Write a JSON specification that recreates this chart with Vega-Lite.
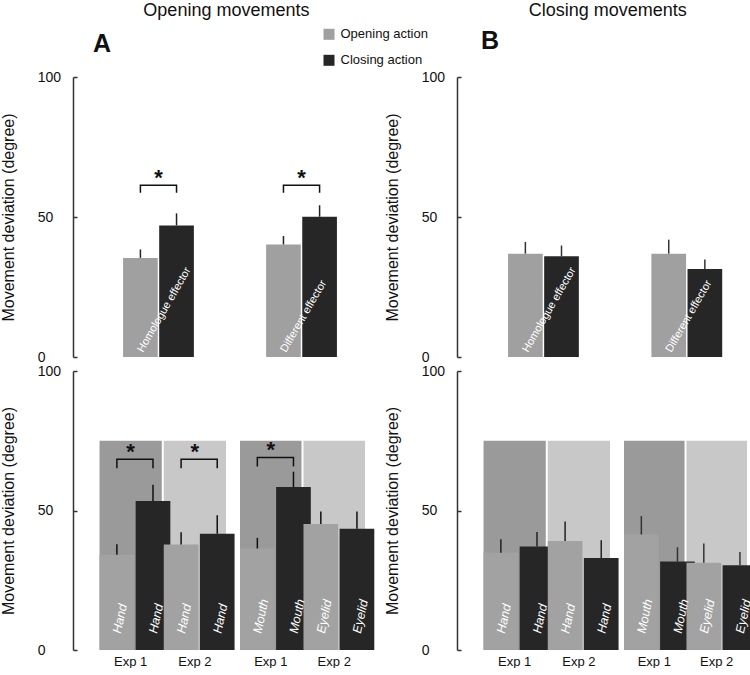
{
  "$schema": "https://vega.github.io/schema/vega-lite/v6.json",
  "padding": {"left": 0, "top": 2, "right": 0, "bottom": 0},
  "config": {
    "font": "Liberation Sans",
    "view": {"stroke": null},
    "axis": {"grid": false, "domainColor": "#333333", "tickColor": "#333333", "labelColor": "#111111", "titleColor": "#111111", "labelFont": "Liberation Sans", "titleFont": "Liberation Sans"},
    "axisY": {"tickSize": -4, "labelAlign": "left", "labelPadding": 39.7, "labelFontSize": 14, "labelFlush": false, "titleFontSize": 16, "titleFontWeight": "normal", "titlePadding": 21, "domainWidth": 1.5, "tickWidth": 1.5},
    "axisX": {"domain": false, "ticks": false, "labelFontSize": 13, "labelPadding": 5, "labelAngle": 0},
    "title": {"font": "Liberation Sans", "color": "#111111"}
  },
  "datasets": {
    "bars": [
      {"panel": "TL", "group": "Homologue effector", "action": "Opening action", "mean": 35.4, "upper": 38.4},
      {"panel": "TL", "group": "Homologue effector", "action": "Closing action", "mean": 47.0, "upper": 51.3},
      {"panel": "TL", "group": "Different effector", "action": "Opening action", "mean": 40.2, "upper": 43.2},
      {"panel": "TL", "group": "Different effector", "action": "Closing action", "mean": 50.1, "upper": 54.2},
      {"panel": "TR", "group": "Homologue effector", "action": "Opening action", "mean": 36.9, "upper": 41.1},
      {"panel": "TR", "group": "Homologue effector", "action": "Closing action", "mean": 36.0, "upper": 39.8},
      {"panel": "TR", "group": "Different effector", "action": "Opening action", "mean": 36.9, "upper": 41.9},
      {"panel": "TR", "group": "Different effector", "action": "Closing action", "mean": 31.4, "upper": 34.8},
      {"panel": "BL1", "group": "Exp 1", "effector": "Hand", "action": "Opening action", "mean": 34.1, "upper": 37.9},
      {"panel": "BL1", "group": "Exp 1", "effector": "Hand", "action": "Closing action", "mean": 53.4, "upper": 59.2},
      {"panel": "BL1", "group": "Exp 2", "effector": "Hand", "action": "Opening action", "mean": 37.8, "upper": 42.2},
      {"panel": "BL1", "group": "Exp 2", "effector": "Hand", "action": "Closing action", "mean": 41.7, "upper": 48.3},
      {"panel": "BL2", "group": "Exp 1", "effector": "Mouth", "action": "Opening action", "mean": 36.4, "upper": 40.2},
      {"panel": "BL2", "group": "Exp 1", "effector": "Mouth", "action": "Closing action", "mean": 58.4, "upper": 63.9},
      {"panel": "BL2", "group": "Exp 2", "effector": "Eyelid", "action": "Opening action", "mean": 45.2, "upper": 49.6},
      {"panel": "BL2", "group": "Exp 2", "effector": "Eyelid", "action": "Closing action", "mean": 43.5, "upper": 49.6},
      {"panel": "BR1", "group": "Exp 1", "effector": "Hand", "action": "Opening action", "mean": 34.9, "upper": 39.7},
      {"panel": "BR1", "group": "Exp 1", "effector": "Hand", "action": "Closing action", "mean": 37.1, "upper": 42.3},
      {"panel": "BR1", "group": "Exp 2", "effector": "Hand", "action": "Opening action", "mean": 39.1, "upper": 46.1},
      {"panel": "BR1", "group": "Exp 2", "effector": "Hand", "action": "Closing action", "mean": 33.0, "upper": 39.3},
      {"panel": "BR2", "group": "Exp 1", "effector": "Mouth", "action": "Opening action", "mean": 41.4, "upper": 48.0},
      {"panel": "BR2", "group": "Exp 1", "effector": "Mouth", "action": "Closing action", "mean": 31.7, "upper": 36.8},
      {"panel": "BR2", "group": "Exp 2", "effector": "Eyelid", "action": "Opening action", "mean": 31.3, "upper": 38.2},
      {"panel": "BR2", "group": "Exp 2", "effector": "Eyelid", "action": "Closing action", "mean": 30.4, "upper": 35.1}
    ],
    "backgrounds": [
      {"panel": "BL1", "group": "Exp 1", "top": 75}, {"panel": "BL1", "group": "Exp 2", "top": 75},
      {"panel": "BL2", "group": "Exp 1", "top": 75}, {"panel": "BL2", "group": "Exp 2", "top": 75},
      {"panel": "BR1", "group": "Exp 1", "top": 75}, {"panel": "BR1", "group": "Exp 2", "top": 75},
      {"panel": "BR2", "group": "Exp 1", "top": 75}, {"panel": "BR2", "group": "Exp 2", "top": 75}
    ],
    "brackets": [
      {"panel": "TL", "group": "Homologue effector", "action": "Opening action", "seq": 1, "y": 58.7},
      {"panel": "TL", "group": "Homologue effector", "action": "Opening action", "seq": 2, "y": 61.3},
      {"panel": "TL", "group": "Homologue effector", "action": "Closing action", "seq": 3, "y": 61.3},
      {"panel": "TL", "group": "Homologue effector", "action": "Closing action", "seq": 4, "y": 58.7},
      {"panel": "TL", "group": "Different effector", "action": "Opening action", "seq": 1, "y": 58.7},
      {"panel": "TL", "group": "Different effector", "action": "Opening action", "seq": 2, "y": 61.3},
      {"panel": "TL", "group": "Different effector", "action": "Closing action", "seq": 3, "y": 61.3},
      {"panel": "TL", "group": "Different effector", "action": "Closing action", "seq": 4, "y": 58.7},
      {"panel": "BL1", "group": "Exp 1", "action": "Opening action", "seq": 1, "y": 65.1},
      {"panel": "BL1", "group": "Exp 1", "action": "Opening action", "seq": 2, "y": 68.4},
      {"panel": "BL1", "group": "Exp 1", "action": "Closing action", "seq": 3, "y": 68.4},
      {"panel": "BL1", "group": "Exp 1", "action": "Closing action", "seq": 4, "y": 65.1},
      {"panel": "BL1", "group": "Exp 2", "action": "Opening action", "seq": 1, "y": 65.1},
      {"panel": "BL1", "group": "Exp 2", "action": "Opening action", "seq": 2, "y": 68.4},
      {"panel": "BL1", "group": "Exp 2", "action": "Closing action", "seq": 3, "y": 68.4},
      {"panel": "BL1", "group": "Exp 2", "action": "Closing action", "seq": 4, "y": 65.1},
      {"panel": "BL2", "group": "Exp 1", "action": "Opening action", "seq": 1, "y": 65.8},
      {"panel": "BL2", "group": "Exp 1", "action": "Opening action", "seq": 2, "y": 69.0},
      {"panel": "BL2", "group": "Exp 1", "action": "Closing action", "seq": 3, "y": 69.0},
      {"panel": "BL2", "group": "Exp 1", "action": "Closing action", "seq": 4, "y": 65.8}
    ],
    "stars": [
      {"panel": "TL", "group": "Homologue effector", "y": 61.3},
      {"panel": "TL", "group": "Different effector", "y": 61.3},
      {"panel": "BL1", "group": "Exp 1", "y": 68.4},
      {"panel": "BL1", "group": "Exp 2", "y": 68.4},
      {"panel": "BL2", "group": "Exp 1", "y": 69.0}
    ]
  },
  "spacing": -45,
  "resolve": {"scale": {"color": "independent"}, "legend": {"color": "independent"}},
  "hconcat": [
    {
      "title": {"text": "Opening movements", "fontSize": 18, "fontWeight": "normal", "anchor": "middle", "offset": 7.5, "dx": 12},
      "spacing": 0,
      "resolve": {"scale": {"color": "independent"}, "legend": {"color": "independent"}},
      "vconcat": [
        {
          "width": 314, "height": 280,
          "title": {"text": "A", "fontSize": 25, "fontWeight": "bold", "anchor": "start", "frame": "group", "dx": 20, "offset": -29},
          "layer": [
            {
              "data": {"name": "bars"},
              "transform": [{"filter": "datum.panel === 'TL'"}],
              "mark": {"type": "bar"},
              "encoding": {
                "x": {"field": "group", "type": "nominal", "title": null, "scale": {"domain": ["Homologue effector", "Different effector"], "paddingInner": 0.505, "paddingOuter": 0.35}, "axis": null},
                "xOffset": {"field": "action", "type": "nominal", "scale": {"domain": ["Opening action", "Closing action"], "paddingInner": 0.04, "paddingOuter": 0}},
                "y": {"field": "mean", "type": "quantitative", "title": "Movement deviation (degree)", "scale": {"domain": [0, 100], "nice": false}, "axis": {"values": [0, 50, 100]}},
                "color": {"field": "action", "type": "nominal", "scale": {"domain": ["Opening action", "Closing action"], "range": ["#a0a0a0", "#262626"]},
                  "legend": {"title": null, "orient": "none", "legendX": 249.5, "legendY": -49.2, "symbolType": "square", "symbolSize": 121, "symbolStrokeWidth": 0, "labelFontSize": 13, "labelColor": "#111111", "rowPadding": 12, "labelOffset": 5, "padding": 0}}
              }
            },
            {
              "data": {"name": "bars"},
              "transform": [{"filter": "datum.panel === 'TL'"}],
              "mark": {"type": "rule", "color": "#222222", "strokeWidth": 1.5},
              "encoding": {
                "x": {"field": "group", "type": "nominal", "title": null, "axis": null},
                "xOffset": {"field": "action", "type": "nominal"},
                "y": {"field": "mean", "type": "quantitative", "title": "Movement deviation (degree)"},
                "y2": {"field": "upper"}
              }
            },
            {
              "data": {"name": "bars"},
              "transform": [{"filter": "datum.panel === 'TL' && datum.action === 'Opening action'"}],
              "mark": {"type": "text", "angle": -60, "align": "left", "baseline": "middle", "color": "#ffffff", "fontSize": 11},
              "encoding": {
                "x": {"field": "group", "type": "nominal", "title": null, "axis": null},
                "xOffset": {"field": "action", "type": "nominal"},
                "y": {"datum": 2, "type": "quantitative"},
                "text": {"field": "group"}
              }
            },
            {
              "data": {"name": "brackets"},
              "transform": [{"filter": "datum.panel === 'TL'"}],
              "mark": {"type": "line", "color": "#111111", "strokeWidth": 1.5},
              "encoding": {
                "x": {"field": "group", "type": "nominal", "title": null, "axis": null},
                "xOffset": {"field": "action", "type": "nominal"},
                "y": {"field": "y", "type": "quantitative", "title": "Movement deviation (degree)"},
                "detail": {"field": "group"},
                "order": {"field": "seq"}
              }
            },
            {
              "data": {"name": "stars"},
              "transform": [{"filter": "datum.panel === 'TL'"}],
              "mark": {"type": "text", "text": "*", "fontSize": 22, "fontWeight": "bold", "baseline": "alphabetic", "color": "#111111"},
              "encoding": {
                "x": {"field": "group", "type": "nominal", "title": null, "axis": null},
                "y": {"field": "y", "type": "quantitative", "title": "Movement deviation (degree)"}
              }
            }
          ]
        },
        {
          "spacing": 5,
          "resolve": {"scale": {"color": "independent"}, "legend": {"color": "independent"}},
          "hconcat": [
            {
              "width": 153, "height": 279,
              "layer": [
                {
                  "data": {"name": "backgrounds"},
                  "transform": [{"filter": "datum.panel === 'BL1'"}],
                  "mark": {"type": "bar"},
                  "encoding": {
                    "x": {"field": "group", "type": "nominal", "title": null, "scale": {"domain": ["Exp 1", "Exp 2"], "paddingInner": 0.031, "paddingOuter": 0.2065, "align": 1}},
                    "y": {"field": "top", "type": "quantitative", "title": "Movement deviation (degree)", "scale": {"domain": [0, 100], "nice": false}, "axis": {"values": [0, 50, 100]}},
                    "fill": {"condition": {"test": "datum.group === 'Exp 1'", "value": "#9a9a9a"}, "value": "#c8c8c8"}
                  }
                },
                {
                  "data": {"name": "bars"},
                  "transform": [{"filter": "datum.panel === 'BL1'"}],
                  "mark": {"type": "bar"},
                  "encoding": {
                    "x": {"field": "group", "type": "nominal", "title": null},
                    "xOffset": {"field": "action", "type": "nominal", "scale": {"domain": ["Opening action", "Closing action"], "paddingInner": 0.1, "paddingOuter": 0.083}},
                    "y": {"field": "mean", "type": "quantitative", "title": "Movement deviation (degree)"},
                    "color": {"field": "action", "type": "nominal", "scale": {"domain": ["Opening action", "Closing action"], "range": ["#a2a2a2", "#262626"]}, "legend": null}
                  }
                },
                {
                  "data": {"name": "bars"},
                  "transform": [{"filter": "datum.panel === 'BL1'"}],
                  "mark": {"type": "rule", "color": "#111111", "strokeWidth": 1.5},
                  "encoding": {
                    "x": {"field": "group", "type": "nominal", "title": null},
                    "xOffset": {"field": "action", "type": "nominal"},
                    "y": {"field": "mean", "type": "quantitative", "title": "Movement deviation (degree)"},
                    "y2": {"field": "upper"}
                  }
                },
                {
                  "data": {"name": "bars"},
                  "transform": [{"filter": "datum.panel === 'BL1'"}],
                  "mark": {"type": "text", "angle": -78, "align": "left", "baseline": "middle", "color": "#ffffff", "fontSize": 12.5, "fontStyle": "italic"},
                  "encoding": {
                    "x": {"field": "group", "type": "nominal", "title": null},
                    "xOffset": {"field": "action", "type": "nominal"},
                    "y": {"datum": 6, "type": "quantitative"},
                    "text": {"field": "effector"}
                  }
                },
                {
                  "data": {"name": "brackets"},
                  "transform": [{"filter": "datum.panel === 'BL1'"}],
                  "mark": {"type": "line", "color": "#111111", "strokeWidth": 1.5},
                  "encoding": {
                    "x": {"field": "group", "type": "nominal", "title": null},
                    "xOffset": {"field": "action", "type": "nominal"},
                    "y": {"field": "y", "type": "quantitative", "title": "Movement deviation (degree)"},
                    "detail": {"field": "group"},
                    "order": {"field": "seq"}
                  }
                },
                {
                  "data": {"name": "stars"},
                  "transform": [{"filter": "datum.panel === 'BL1'"}],
                  "mark": {"type": "text", "text": "*", "fontSize": 22, "fontWeight": "bold", "baseline": "alphabetic", "color": "#111111"},
                  "encoding": {
                    "x": {"field": "group", "type": "nominal", "title": null},
                    "y": {"field": "y", "type": "quantitative", "title": "Movement deviation (degree)"}
                  }
                }
              ]
            },
            {
              "width": 125, "height": 279,
              "layer": [
                {
                  "data": {"name": "backgrounds"},
                  "transform": [{"filter": "datum.panel === 'BL2'"}],
                  "mark": {"type": "bar"},
                  "encoding": {
                    "x": {"field": "group", "type": "nominal", "title": null, "scale": {"domain": ["Exp 1", "Exp 2"], "paddingInner": 0.031, "paddingOuter": 0}},
                    "y": {"field": "top", "type": "quantitative", "scale": {"domain": [0, 100], "nice": false}, "axis": null},
                    "fill": {"condition": {"test": "datum.group === 'Exp 1'", "value": "#9a9a9a"}, "value": "#c8c8c8"}
                  }
                },
                {
                  "data": {"name": "bars"},
                  "transform": [{"filter": "datum.panel === 'BL2'"}],
                  "mark": {"type": "bar"},
                  "encoding": {
                    "x": {"field": "group", "type": "nominal", "title": null},
                    "xOffset": {"field": "action", "type": "nominal", "scale": {"domain": ["Opening action", "Closing action"], "paddingInner": 0.1, "paddingOuter": 0.083}},
                    "y": {"field": "mean", "type": "quantitative", "axis": null},
                    "color": {"field": "action", "type": "nominal", "scale": {"domain": ["Opening action", "Closing action"], "range": ["#a2a2a2", "#262626"]}, "legend": null}
                  }
                },
                {
                  "data": {"name": "bars"},
                  "transform": [{"filter": "datum.panel === 'BL2'"}],
                  "mark": {"type": "rule", "color": "#111111", "strokeWidth": 1.5},
                  "encoding": {
                    "x": {"field": "group", "type": "nominal", "title": null},
                    "xOffset": {"field": "action", "type": "nominal"},
                    "y": {"field": "mean", "type": "quantitative", "axis": null},
                    "y2": {"field": "upper"}
                  }
                },
                {
                  "data": {"name": "bars"},
                  "transform": [{"filter": "datum.panel === 'BL2'"}],
                  "mark": {"type": "text", "angle": -78, "align": "left", "baseline": "middle", "color": "#ffffff", "fontSize": 12.5, "fontStyle": "italic"},
                  "encoding": {
                    "x": {"field": "group", "type": "nominal", "title": null},
                    "xOffset": {"field": "action", "type": "nominal"},
                    "y": {"datum": 6, "type": "quantitative", "axis": null},
                    "text": {"field": "effector"}
                  }
                },
                {
                  "data": {"name": "brackets"},
                  "transform": [{"filter": "datum.panel === 'BL2'"}],
                  "mark": {"type": "line", "color": "#111111", "strokeWidth": 1.5},
                  "encoding": {
                    "x": {"field": "group", "type": "nominal", "title": null},
                    "xOffset": {"field": "action", "type": "nominal"},
                    "y": {"field": "y", "type": "quantitative", "axis": null},
                    "detail": {"field": "group"},
                    "order": {"field": "seq"}
                  }
                },
                {
                  "data": {"name": "stars"},
                  "transform": [{"filter": "datum.panel === 'BL2'"}],
                  "mark": {"type": "text", "text": "*", "fontSize": 22, "fontWeight": "bold", "baseline": "alphabetic", "color": "#111111"},
                  "encoding": {
                    "x": {"field": "group", "type": "nominal", "title": null},
                    "y": {"field": "y", "type": "quantitative", "axis": null}
                  }
                }
              ]
            }
          ]
        }
      ]
    },
    {
      "title": {"text": "Closing movements", "fontSize": 18, "fontWeight": "normal", "anchor": "middle", "offset": 9, "dx": 37},
      "spacing": 0,
      "resolve": {"scale": {"color": "independent"}, "legend": {"color": "independent"}},
      "vconcat": [
        {
          "width": 290, "height": 280,
          "title": {"text": "B", "fontSize": 25, "fontWeight": "bold", "anchor": "start", "frame": "group", "dx": 24, "offset": 16},
          "layer": [
            {
              "data": {"name": "bars"},
              "transform": [{"filter": "datum.panel === 'TR'"}],
              "mark": {"type": "bar"},
              "encoding": {
                "x": {"field": "group", "type": "nominal", "title": null, "scale": {"domain": ["Homologue effector", "Different effector"], "paddingInner": 0.493, "paddingOuter": 0.258, "align": 0.69}, "axis": null},
                "xOffset": {"field": "action", "type": "nominal", "scale": {"domain": ["Opening action", "Closing action"], "paddingInner": 0.105, "paddingOuter": 0}},
                "y": {"field": "mean", "type": "quantitative", "title": "Movement deviation (degree)", "scale": {"domain": [0, 100], "nice": false}, "axis": {"values": [0, 50, 100]}},
                "color": {"field": "action", "type": "nominal", "scale": {"domain": ["Opening action", "Closing action"], "range": ["#a0a0a0", "#262626"]}, "legend": null}
              }
            },
            {
              "data": {"name": "bars"},
              "transform": [{"filter": "datum.panel === 'TR'"}],
              "mark": {"type": "rule", "color": "#333333", "strokeWidth": 1.5},
              "encoding": {
                "x": {"field": "group", "type": "nominal", "title": null, "axis": null},
                "xOffset": {"field": "action", "type": "nominal"},
                "y": {"field": "mean", "type": "quantitative", "title": "Movement deviation (degree)"},
                "y2": {"field": "upper"}
              }
            },
            {
              "data": {"name": "bars"},
              "transform": [{"filter": "datum.panel === 'TR' && datum.action === 'Opening action'"}],
              "mark": {"type": "text", "angle": -60, "align": "left", "baseline": "middle", "color": "#ffffff", "fontSize": 11},
              "encoding": {
                "x": {"field": "group", "type": "nominal", "title": null, "axis": null},
                "xOffset": {"field": "action", "type": "nominal"},
                "y": {"datum": 2, "type": "quantitative"},
                "text": {"field": "group"}
              }
            }
          ]
        },
        {
          "spacing": 5,
          "resolve": {"scale": {"color": "independent"}, "legend": {"color": "independent"}},
          "hconcat": [
            {
              "width": 153, "height": 279,
              "layer": [
                {
                  "data": {"name": "backgrounds"},
                  "transform": [{"filter": "datum.panel === 'BR1'"}],
                  "mark": {"type": "bar"},
                  "encoding": {
                    "x": {"field": "group", "type": "nominal", "title": null, "scale": {"domain": ["Exp 1", "Exp 2"], "paddingInner": 0.031, "paddingOuter": 0.2065, "align": 1}},
                    "y": {"field": "top", "type": "quantitative", "title": "Movement deviation (degree)", "scale": {"domain": [0, 100], "nice": false}, "axis": {"values": [0, 50, 100]}},
                    "fill": {"condition": {"test": "datum.group === 'Exp 1'", "value": "#9a9a9a"}, "value": "#c8c8c8"}
                  }
                },
                {
                  "data": {"name": "bars"},
                  "transform": [{"filter": "datum.panel === 'BR1'"}],
                  "mark": {"type": "bar"},
                  "encoding": {
                    "x": {"field": "group", "type": "nominal", "title": null},
                    "xOffset": {"field": "action", "type": "nominal", "scale": {"domain": ["Opening action", "Closing action"], "paddingInner": 0.1, "paddingOuter": 0.083}},
                    "y": {"field": "mean", "type": "quantitative", "title": "Movement deviation (degree)"},
                    "color": {"field": "action", "type": "nominal", "scale": {"domain": ["Opening action", "Closing action"], "range": ["#a2a2a2", "#262626"]}, "legend": null}
                  }
                },
                {
                  "data": {"name": "bars"},
                  "transform": [{"filter": "datum.panel === 'BR1'"}],
                  "mark": {"type": "rule", "color": "#222222", "strokeWidth": 1.5},
                  "encoding": {
                    "x": {"field": "group", "type": "nominal", "title": null},
                    "xOffset": {"field": "action", "type": "nominal"},
                    "y": {"field": "mean", "type": "quantitative", "title": "Movement deviation (degree)"},
                    "y2": {"field": "upper"}
                  }
                },
                {
                  "data": {"name": "bars"},
                  "transform": [{"filter": "datum.panel === 'BR1'"}],
                  "mark": {"type": "text", "angle": -78, "align": "left", "baseline": "middle", "color": "#ffffff", "fontSize": 12.5, "fontStyle": "italic"},
                  "encoding": {
                    "x": {"field": "group", "type": "nominal", "title": null},
                    "xOffset": {"field": "action", "type": "nominal"},
                    "y": {"datum": 6, "type": "quantitative"},
                    "text": {"field": "effector"}
                  }
                }
              ]
            },
            {
              "width": 123, "height": 279,
              "layer": [
                {
                  "data": {"name": "backgrounds"},
                  "transform": [{"filter": "datum.panel === 'BR2'"}],
                  "mark": {"type": "bar"},
                  "encoding": {
                    "x": {"field": "group", "type": "nominal", "title": null, "scale": {"domain": ["Exp 1", "Exp 2"], "paddingInner": 0.031, "paddingOuter": 0}},
                    "y": {"field": "top", "type": "quantitative", "scale": {"domain": [0, 100], "nice": false}, "axis": null},
                    "fill": {"condition": {"test": "datum.group === 'Exp 1'", "value": "#9a9a9a"}, "value": "#c8c8c8"}
                  }
                },
                {
                  "data": {"name": "bars"},
                  "transform": [{"filter": "datum.panel === 'BR2'"}],
                  "mark": {"type": "bar"},
                  "encoding": {
                    "x": {"field": "group", "type": "nominal", "title": null},
                    "xOffset": {"field": "action", "type": "nominal", "scale": {"domain": ["Opening action", "Closing action"], "paddingInner": 0.1, "paddingOuter": 0.083}},
                    "y": {"field": "mean", "type": "quantitative", "axis": null},
                    "color": {"field": "action", "type": "nominal", "scale": {"domain": ["Opening action", "Closing action"], "range": ["#a2a2a2", "#262626"]}, "legend": null}
                  }
                },
                {
                  "data": {"name": "bars"},
                  "transform": [{"filter": "datum.panel === 'BR2'"}],
                  "mark": {"type": "rule", "color": "#333333", "strokeWidth": 1.5},
                  "encoding": {
                    "x": {"field": "group", "type": "nominal", "title": null},
                    "xOffset": {"field": "action", "type": "nominal"},
                    "y": {"field": "mean", "type": "quantitative", "axis": null},
                    "y2": {"field": "upper"}
                  }
                },
                {
                  "data": {"name": "bars"},
                  "transform": [{"filter": "datum.panel === 'BR2'"}],
                  "mark": {"type": "text", "angle": -78, "align": "left", "baseline": "middle", "color": "#ffffff", "fontSize": 12.5, "fontStyle": "italic"},
                  "encoding": {
                    "x": {"field": "group", "type": "nominal", "title": null},
                    "xOffset": {"field": "action", "type": "nominal"},
                    "y": {"datum": 6, "type": "quantitative", "axis": null},
                    "text": {"field": "effector"}
                  }
                }
              ]
            }
          ]
        }
      ]
    }
  ]
}
